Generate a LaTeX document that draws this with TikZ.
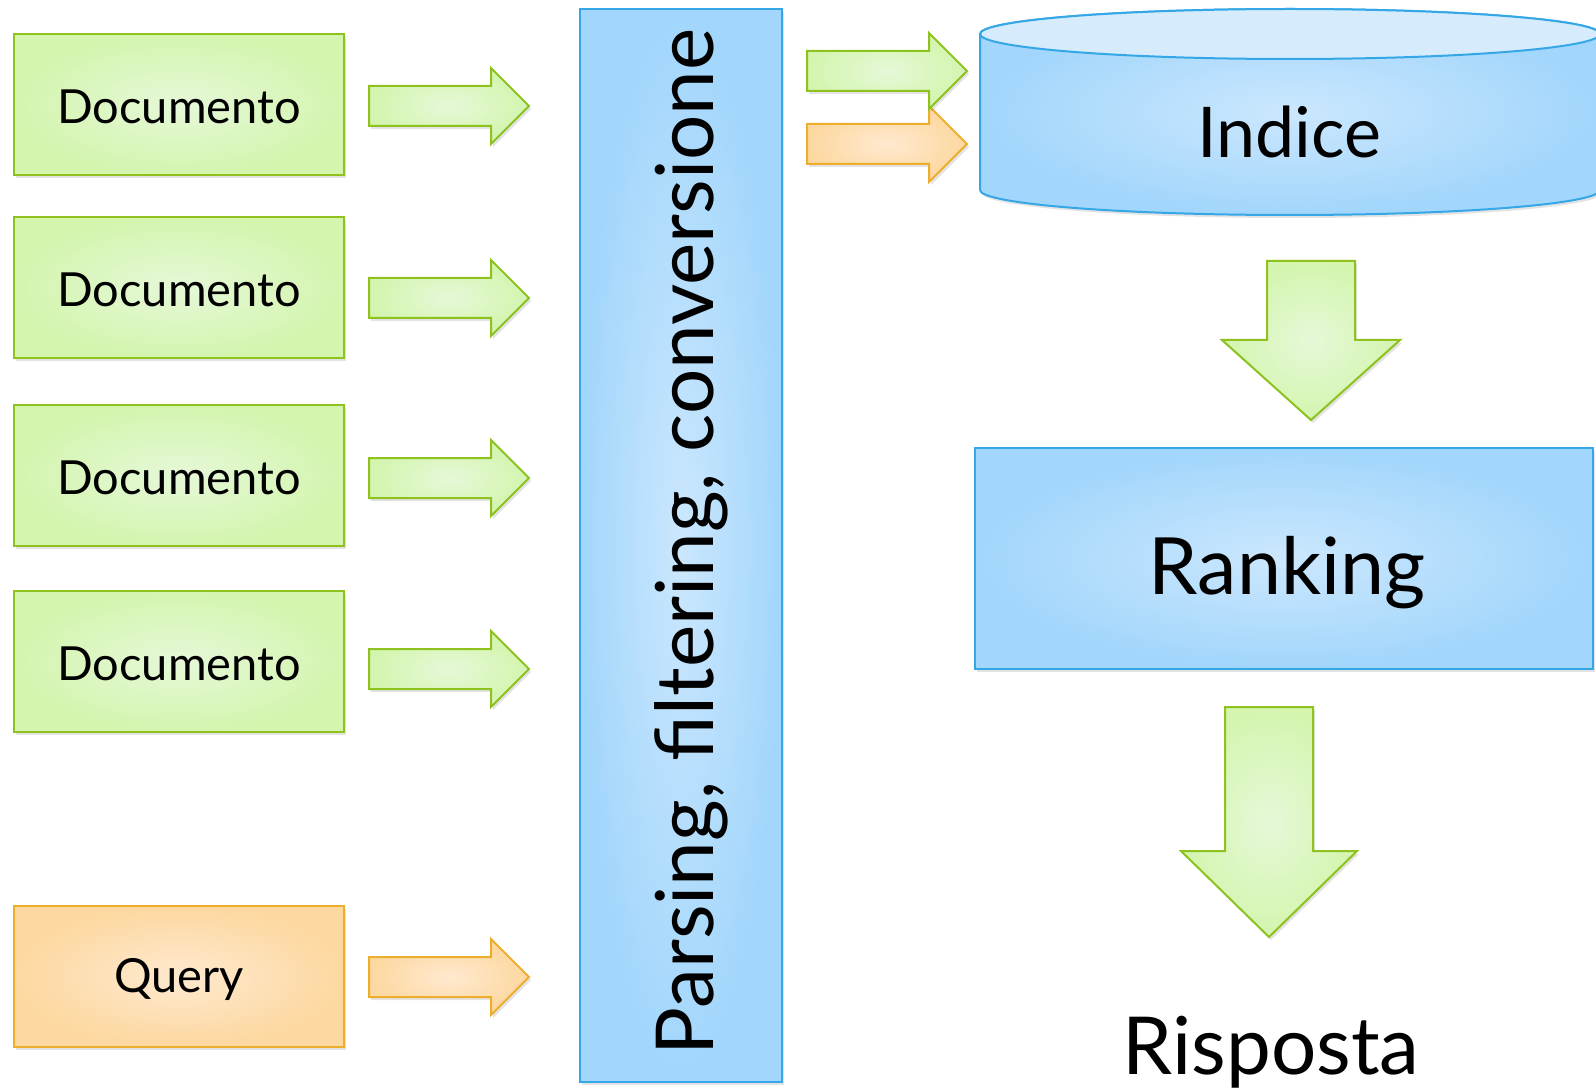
\documentclass[tikz,border=0pt]{standalone}
\usepackage{fontspec}
\setmainfont{Lato}
\usetikzlibrary{shadows,calc}

\definecolor{grnEdge}{HTML}{8DC21F}
\definecolor{grnOut}{HTML}{D3F5AE}
\definecolor{grnIn}{HTML}{E6F8D8}
\definecolor{orEdge}{HTML}{EDAE2E}
\definecolor{orOut}{HTML}{FDD8A0}
\definecolor{orIn}{HTML}{FEE9CF}
\definecolor{bluEdge}{HTML}{35A7E6}
\definecolor{bluOut}{HTML}{A2D6FC}
\definecolor{bluIn}{HTML}{CBE7FD}
\definecolor{bluTop}{HTML}{D6ECFD}

\tikzset{
  shadowed/.style={drop shadow={shadow xshift=2pt, shadow yshift=-3pt, opacity=0.22}},
  greenfill/.style={draw=grnEdge, line width=2pt, inner color=grnIn, outer color=grnOut},
  orangefill/.style={draw=orEdge, line width=2pt, inner color=orIn, outer color=orOut},
  bluefill/.style={draw=bluEdge, line width=2pt, inner color=bluIn, outer color=bluOut},
  docbox/.style={rectangle, greenfill, shadowed, minimum width=330pt, minimum height=141pt},
  querybox/.style={docbox, orangefill},
  boxlabel/.style={font=\fontsize{47}{54}\selectfont},
  % horizontal block arrow from start to tip
  rblock/.style={line join=miter, to path={
    ($(\tikztostart)+(0,-20)$) -- ($(\tikztotarget)+(-38,-20)$) --
    ($(\tikztotarget)+(-38,-38)$) -- (\tikztotarget) --
    ($(\tikztotarget)+(-38,38)$) -- ($(\tikztotarget)+(-38,20)$) --
    ($(\tikztostart)+(0,20)$) -- cycle}},
  % vertical block arrow: #1 half shaft, #2 half head, #3 head length
  dblock/.style n args={3}{line join=miter, to path={
    ($(\tikztostart)+(-#1,0)$) -- ($(\tikztotarget)+(-#1,-#3)$) --
    ($(\tikztotarget)+(-#2,-#3)$) -- (\tikztotarget) --
    ($(\tikztotarget)+(#2,-#3)$) -- ($(\tikztotarget)+(#1,-#3)$) --
    ($(\tikztostart)+(#1,0)$) -- cycle}},
}

\begin{document}
\begin{tikzpicture}[x=1pt, y=-1pt]
\useasboundingbox (0,0) rectangle (1596,1091);

% input boxes
\node[docbox] (d1) at (179,104.5) {};
\node[docbox] (d2) at (179,287.5) {};
\node[docbox] (d3) at (179,475.5) {};
\node[docbox] (d4) at (179,661) {};
\node[querybox] (q) at (179,976.5) {};
\node[boxlabel] (d1t) at (179,107) {Documento};
\node[boxlabel] (d2t) at (179,290) {Documento};
\node[boxlabel] (d3t) at (179,478) {Documento};
\node[boxlabel] (d4t) at (179,664) {Documento};
\node[boxlabel] (qt) at (179,979) {Query};

% processing stage
\node[rectangle, bluefill, shadowed, minimum width=202pt, minimum height=1073pt] (parse) at (681,545.5) {};
\node[rotate=90, font=\fontsize{80}{90}\selectfont] (ptxt) at (691,542) {Parsing, filtering, conversione};

% index cylinder
\path[bluefill, shadowed] (980,34) -- (980,190)
  arc[start angle=180, end angle=0, x radius=310, y radius=25] -- (1600,34)
  arc[start angle=0, end angle=-180, x radius=310, y radius=25] -- cycle;
\path[draw=bluEdge, line width=2pt, fill=bluTop] (1290,34) ellipse [x radius=310, y radius=25];
\node[font=\fontsize{70}{80}\selectfont] (idx) at (1289,132) {Indice};

% ranking
\node[rectangle, bluefill, shadowed, minimum width=618pt, minimum height=221pt] (rank) at (1284,558.5) {};
\node[font=\fontsize{79}{90}\selectfont] (rankt) at (1287,573) {Ranking};

% answer
\node[font=\fontsize{80}{90}\selectfont] (ans) at (1271,1052) {Risposta};

% arrow end points
\coordinate (a1s) at (369,106);  \coordinate (a1e) at (529,106);
\coordinate (a2s) at (369,298);  \coordinate (a2e) at (529,298);
\coordinate (a3s) at (369,478);  \coordinate (a3e) at (529,478);
\coordinate (a4s) at (369,669);  \coordinate (a4e) at (529,669);
\coordinate (a5s) at (369,977);  \coordinate (a5e) at (529,977);
\coordinate (t1s) at (807,71);   \coordinate (t1e) at (967,71);
\coordinate (t2s) at (807,144);  \coordinate (t2e) at (967,144);
\coordinate (v1s) at (1311,261); \coordinate (v1e) at (1311,420);
\coordinate (v2s) at (1269,707); \coordinate (v2e) at (1269,937);

% block arrows
\path[greenfill, shadowed] (a1s) to[rblock] (a1e);
\path[greenfill, shadowed] (a2s) to[rblock] (a2e);
\path[greenfill, shadowed] (a3s) to[rblock] (a3e);
\path[greenfill, shadowed] (a4s) to[rblock] (a4e);
\path[orangefill, shadowed] (a5s) to[rblock] (a5e);
\path[orangefill, shadowed] (t2s) to[rblock] (t2e);
\path[greenfill, shadowed] (t1s) to[rblock] (t1e);
\path[greenfill, shadowed] (v1s) to[dblock={44}{89}{80}] (v1e);
\path[greenfill, shadowed] (v2s) to[dblock={44}{88}{86}] (v2e);
\end{tikzpicture}
\end{document}
